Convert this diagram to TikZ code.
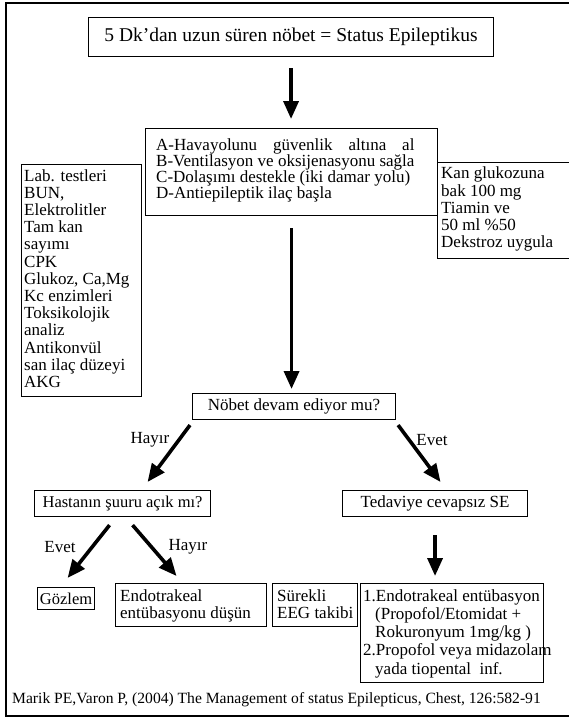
\documentclass[tikz,border=0pt]{standalone}
\usepackage{fontspec}
\setmainfont{Liberation Serif}
\usetikzlibrary{arrows.meta,calc}
\begin{document}
\begin{tikzpicture}[x=1pt,y=-1pt,
  box/.style={draw=black, line width=1.1pt, inner sep=0pt, anchor=north west},
  txt/.style={inner sep=0pt, anchor=north west, align=left, font=\fontsize{17}{17.2}\selectfont},
  lbl/.style={inner sep=0pt, font=\fontsize{17}{17}\selectfont},
  arr/.style={line width=3.6pt, -{Triangle[length=18pt,width=15pt]}},
]
\useasboundingbox (0,0) rectangle (568,720);
\fill[white] (0,0) rectangle (568,720);
\draw[line width=1.3pt] (6,3) rectangle (572,716);

% top box
\node[box, minimum width=405pt, minimum height=39pt, font=\fontsize{19.5}{19.5}\selectfont] (top) at (88,17) {5 Dk’dan uzun süren nöbet = Status Epileptikus};

% ABCD box
\node[box, minimum width=292pt, minimum height=87pt] (abcd) at (145,128) {};
\node[txt, font=\fontsize{17}{15.8}\selectfont] (abcdT) at (156,139) {\setbox0\hbox{B-Ventilasyon ve oksijenasyonu sağla}\hbox to \wd0{A-Havayolunu\hfill güvenlik\hfill altına\hfill al}\\B-Ventilasyon ve oksijenasyonu sağla\\C-Dolaşımı destekle (iki damar yolu)\\D-Antiepileptik ilaç başla};

% Lab box
\node[box, minimum width=120pt, minimum height=232pt] (lab) at (21,164) {};
\node[txt] (labT) at (24,169) {Lab. testleri\\BUN,\\Elektrolitler\\Tam kan\\sayımı\\CPK\\Glukoz, Ca,Mg\\Kc enzimleri\\Toksikolojik\\analiz\\Antikonvül\\san ilaç düzeyi\\AKG};

% Kan box
\node[box, minimum width=140pt, minimum height=96pt] (kan) at (437,162) {};
\node[txt] (kanT) at (441,167) {Kan glukozuna\\bak 100 mg\\Tiamin ve\\50 ml \%50\\Dekstroz uygula};

% Nobet box
\node[box, minimum width=203pt, minimum height=26pt, font=\fontsize{17}{17}\selectfont] (nobet) at (192,393) {Nöbet devam ediyor mu?};

% second level
\node[box, minimum width=176pt, minimum height=26pt, font=\fontsize{16.5}{17}\selectfont] (hast) at (34,490) {Hastanın şuuru açık mı?};
\node[box, minimum width=185pt, minimum height=26pt, font=\fontsize{17}{17}\selectfont] (tedv) at (342,490) {Tedaviye cevapsız SE};

% bottom boxes
\node[box, minimum width=57pt, minimum height=22pt, font=\fontsize{16.5}{17}\selectfont] (gozlem) at (37,587) {Gözlem};
\node[box, minimum width=151pt, minimum height=43pt] (endo) at (115,583) {};
\node[txt] (endoT) at (120,589) {Endotrakeal\\entübasyonu düşün};
\node[box, minimum width=85pt, minimum height=43pt] (eeg) at (272,583) {};
\node[txt] (eegT) at (277,589) {Sürekli\\EEG takibi};
\node[box, minimum width=183pt, minimum height=99pt] (endo1) at (360,583) {};
\node[txt, font=\fontsize{17}{18.3}\selectfont] (endo1T) at (363,589) {1.Endotrakeal entübasyon\\\hspace*{12pt}(Propofol/Etomidat +\\\hspace*{12pt}Rokuronyum 1mg/kg )\\2.Propofol veya midazolam\\\hspace*{12pt}yada tiopental~ inf.};

% citation
\node[anchor=west, inner sep=0pt, font=\fontsize{15.6}{16}\selectfont] (cite) at (12,700) {Marik PE,Varon P, (2004) The Management of status Epilepticus, Chest, 126:582-91};

% labels
\node[lbl] (l1) at (150,440) {Hayır};
\node[lbl] (l2) at (432,440) {Evet};
\node[lbl] (l3) at (60,547) {Evet};
\node[lbl] (l4) at (188,547) {Hayır};

% arrows
\draw[arr, shorten <=11pt, shorten >=9pt] (top.south) -- (top.south |- abcd.north);
\draw[arr, shorten <=12pt, shorten >=4pt] (abcd.south) -- (abcd.south |- nobet.north);
\draw[arr] ([xshift=-2pt,yshift=-5pt]nobet.south west) -- ([xshift=25pt,yshift=8pt]hast.north);
\draw[arr] ([xshift=2pt,yshift=-5pt]nobet.south east) -- ([xshift=5.5pt,yshift=8pt]tedv.north);
\draw[arr] ([xshift=-13pt,yshift=-8pt]hast.south) -- ([xshift=1.5pt,yshift=9pt]gozlem.north);
\draw[arr] ([xshift=10pt,yshift=-8pt]hast.south) -- ([xshift=-14.5pt,yshift=7pt]endo.north);
\draw[arr, shorten <=18pt, shorten >=7pt] (tedv.south) -- (tedv.south |- endo1.north);
\end{tikzpicture}
\end{document}
